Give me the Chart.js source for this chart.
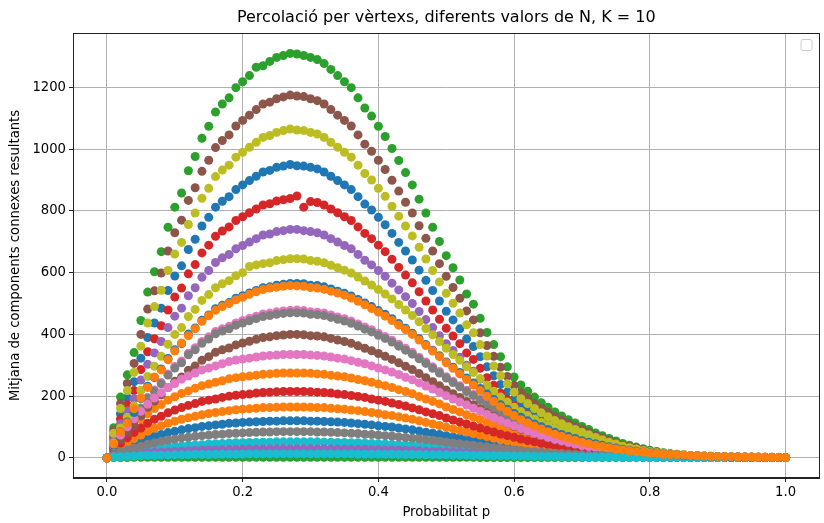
<!DOCTYPE html>
<html lang="ca">
<head>
  <meta charset="UTF-8">
  <title>Percolació per vèrtexs</title>
  <script src="https://cdn.jsdelivr.net/npm/chart.js"></script>
  <style>
    html, body { margin: 0; padding: 0; background: #fff; }
    #wrap { width: 824px; height: 523px; }
  </style>
</head>
<body>
  <div id="wrap"><canvas id="percChart" width="824" height="523"></canvas></div>
  <script>
    // Probabilitat de conservar cada vèrtex
    const probP = [
      0, 0.01, 0.02, 0.03, 0.04, 0.05, 0.06, 0.07, 0.08, 0.09,
      0.1, 0.11, 0.12, 0.13, 0.14, 0.15, 0.16, 0.17, 0.18, 0.19,
      0.2, 0.21, 0.22, 0.23, 0.24, 0.25, 0.26, 0.27, 0.28, 0.29,
      0.3, 0.31, 0.32, 0.33, 0.34, 0.35, 0.36, 0.37, 0.38, 0.39,
      0.4, 0.41, 0.42, 0.43, 0.44, 0.45, 0.46, 0.47, 0.48, 0.49,
      0.5, 0.51, 0.52, 0.53, 0.54, 0.55, 0.56, 0.57, 0.58, 0.59,
      0.6, 0.61, 0.62, 0.63, 0.64, 0.65, 0.66, 0.67, 0.68, 0.69,
      0.7, 0.71, 0.72, 0.73, 0.74, 0.75, 0.76, 0.77, 0.78, 0.79,
      0.8, 0.81, 0.82, 0.83, 0.84, 0.85, 0.86, 0.87, 0.88, 0.89,
      0.9, 0.91, 0.92, 0.93, 0.94, 0.95, 0.96, 0.97, 0.98, 0.99,
      1
    ];

    // Mitjana de components connexes per a cada N (en l'ordre en què es dibuixen)
    const comp00 = [0, 71, 143, 195, 247, 323, 390, 437, 485, 542, 589, 622, 675, 708, 751, 779, 812, 831, 846, 869, 884, 898, 912, 926, 931, 941, 945, 950, 946, 945, 941, 936, 926, 912, 898, 884, 869, 846, 822, 803, 779, 755, 727, 698, 670, 641, 608, 575, 542, 508, 475, 447, 418, 385, 361, 328, 295, 266, 238, 214, 190, 171, 157, 143, 130, 119, 108, 99, 90, 82, 74, 67, 59, 52, 46, 40, 34, 29, 26, 22, 18, 15, 12, 10, 9, 8, 6, 5, 4, 4, 3, 2, 2, 2, 1, 1, 1, 1, 1, 1, 1];
    const comp01 = [0, 33, 61, 83, 105, 124, 143, 160, 173, 187, 198, 209, 217, 226, 234, 239, 245, 250, 256, 260, 263, 265, 268, 271, 272, 274, 275, 275, 275, 275, 274, 272, 271, 268, 265, 263, 259, 254, 250, 245, 239, 234, 228, 221, 215, 208, 199, 191, 183, 175, 165, 157, 149, 140, 132, 124, 116, 107, 99, 92, 85, 78, 72, 66, 61, 55, 50, 45, 41, 37, 33, 30, 28, 25, 22, 20, 18, 16, 14, 12, 11, 10, 9, 8, 7, 6, 6, 5, 4, 4, 3, 3, 3, 2, 2, 2, 2, 1, 1, 1, 1];
    const comp02 = [0, 98, 197, 269, 341, 445, 537, 603, 668, 747, 812, 858, 930, 976, 1035, 1074, 1120, 1146, 1166, 1199, 1218, 1238, 1265, 1270, 1284, 1297, 1303, 1310, 1308, 1303, 1297, 1290, 1277, 1258, 1238, 1218, 1199, 1166, 1133, 1107, 1074, 1041, 1002, 963, 924, 884, 838, 793, 747, 701, 655, 616, 576, 531, 498, 452, 406, 367, 328, 295, 262, 236, 216, 197, 179, 164, 149, 136, 124, 113, 102, 92, 81, 72, 63, 55, 47, 41, 35, 30, 25, 21, 17, 14, 12, 10, 8, 7, 5, 5, 4, 3, 3, 2, 2, 2, 1, 1, 1, 1, 1];
    const comp03 = [0, 63, 126, 172, 218, 286, 344, 386, 428, 479, 521, 550, 596, 626, 664, 689, 718, 735, 748, 769, 781, 794, 806, 819, 823, 832, 836, 840, 848, 812, 830, 827, 819, 806, 794, 781, 769, 748, 727, 710, 689, 668, 643, 617, 592, 567, 538, 508, 479, 449, 420, 395, 370, 340, 319, 290, 260, 235, 210, 189, 168, 151, 139, 126, 115, 105, 96, 87, 80, 72, 66, 59, 52, 46, 40, 35, 30, 26, 23, 19, 16, 13, 11, 9, 8, 7, 5, 4, 3, 3, 3, 2, 2, 2, 1, 1, 1, 1, 1, 1, 1];
    const comp04 = [0, 56, 111, 152, 192, 252, 303, 340, 377, 422, 459, 485, 525, 551, 585, 607, 633, 648, 659, 677, 688, 699, 710, 722, 725, 733, 736, 740, 740, 736, 733, 729, 722, 710, 699, 688, 677, 659, 640, 625, 607, 588, 566, 544, 522, 500, 474, 448, 422, 396, 370, 348, 326, 300, 281, 255, 229, 207, 185, 167, 148, 133, 122, 111, 101, 93, 84, 77, 70, 64, 58, 52, 46, 41, 36, 31, 27, 23, 20, 17, 14, 12, 10, 8, 7, 6, 4, 4, 3, 3, 2, 2, 2, 1, 1, 1, 1, 1, 1, 1, 1];
    const comp05 = [0, 88, 176, 241, 306, 400, 482, 541, 599, 670, 729, 770, 834, 875, 928, 964, 1005, 1028, 1046, 1075, 1093, 1110, 1128, 1146, 1152, 1163, 1169, 1175, 1172, 1170, 1163, 1157, 1146, 1128, 1110, 1093, 1075, 1046, 1016, 993, 964, 934, 899, 864, 828, 793, 752, 711, 670, 629, 588, 552, 517, 476, 447, 405, 364, 329, 294, 264, 235, 212, 194, 176, 161, 147, 134, 122, 112, 101, 92, 82, 73, 65, 56, 49, 42, 36, 32, 27, 22, 19, 15, 13, 11, 9, 7, 6, 5, 5, 4, 3, 3, 2, 2, 2, 1, 1, 1, 1, 1];
    const comp06 = [0, 37, 73, 97, 125, 162, 196, 220, 244, 272, 296, 314, 339, 357, 377, 392, 409, 418, 426, 437, 445, 452, 459, 466, 469, 473, 476, 478, 479, 477, 473, 472, 469, 463, 456, 451, 443, 434, 424, 415, 404, 393, 381, 368, 355, 342, 326, 311, 295, 280, 263, 248, 234, 219, 205, 190, 175, 160, 146, 134, 122, 111, 102, 93, 86, 78, 70, 64, 59, 53, 48, 43, 39, 35, 31, 27, 24, 21, 19, 16, 14, 12, 11, 10, 8, 7, 6, 6, 5, 4, 4, 3, 3, 3, 2, 2, 2, 1, 1, 1, 1];
    const comp07 = [0, 35, 71, 96, 122, 160, 193, 216, 240, 268, 291, 308, 334, 350, 371, 385, 402, 411, 418, 430, 437, 444, 451, 458, 461, 465, 468, 470, 470, 469, 465, 464, 461, 455, 449, 443, 436, 427, 417, 408, 397, 387, 375, 362, 349, 336, 321, 306, 290, 275, 259, 244, 230, 215, 202, 187, 172, 157, 143, 132, 120, 110, 100, 92, 84, 77, 69, 63, 58, 52, 47, 42, 38, 34, 30, 27, 24, 21, 18, 16, 14, 12, 11, 9, 8, 7, 6, 6, 5, 4, 4, 3, 3, 3, 2, 2, 2, 1, 1, 1, 1];
    const comp08 = [0, 80, 160, 218, 277, 362, 437, 490, 543, 607, 660, 698, 756, 793, 841, 873, 911, 932, 948, 974, 990, 1006, 1022, 1038, 1044, 1054, 1060, 1065, 1062, 1060, 1054, 1049, 1038, 1022, 1006, 990, 974, 948, 921, 900, 873, 847, 815, 783, 751, 719, 682, 644, 607, 570, 533, 501, 469, 431, 405, 367, 330, 298, 266, 240, 213, 192, 176, 160, 146, 133, 121, 111, 101, 92, 83, 75, 66, 59, 51, 45, 38, 33, 29, 24, 20, 17, 14, 12, 10, 9, 6, 5, 4, 4, 3, 2, 2, 2, 1, 1, 1, 1, 1, 1, 1];
    const comp09 = [0, 8, 14, 18, 22, 25, 28, 31, 33, 35, 37, 39, 41, 42, 43, 45, 46, 47, 48, 49, 49, 50, 50, 51, 51, 52, 52, 52, 52, 52, 52, 52, 51, 51, 50, 50, 49, 49, 48, 47, 46, 45, 44, 43, 42, 41, 40, 38, 37, 36, 34, 33, 32, 30, 29, 28, 26, 25, 23, 22, 21, 19, 18, 17, 16, 15, 14, 13, 12, 11, 10, 9, 8, 8, 7, 6, 6, 5, 5, 4, 4, 3, 3, 3, 2, 2, 2, 2, 2, 1, 1, 1, 1, 1, 1, 1, 1, 1, 1, 1, 1];
    const comp10 = [0, 14, 26, 36, 46, 54, 62, 70, 76, 82, 86, 91, 95, 98, 102, 104, 107, 109, 112, 113, 115, 116, 117, 118, 119, 119, 120, 120, 120, 120, 119, 119, 118, 117, 116, 115, 113, 111, 109, 107, 104, 102, 100, 97, 94, 91, 87, 83, 80, 76, 72, 68, 65, 61, 58, 54, 50, 47, 43, 40, 37, 34, 31, 29, 26, 24, 22, 20, 18, 16, 14, 13, 12, 11, 10, 9, 8, 7, 6, 5, 5, 4, 4, 3, 3, 3, 2, 2, 2, 2, 1, 1, 1, 1, 1, 1, 1, 1, 1, 1, 1];
    const comp11 = [0, 20, 36, 50, 63, 74, 86, 96, 104, 112, 119, 125, 130, 135, 140, 144, 147, 150, 153, 156, 158, 159, 161, 163, 163, 164, 165, 165, 165, 165, 164, 163, 163, 161, 159, 158, 155, 153, 150, 147, 144, 140, 137, 133, 129, 125, 120, 115, 110, 105, 99, 94, 89, 84, 79, 74, 69, 64, 59, 55, 51, 47, 43, 40, 36, 33, 30, 27, 25, 22, 20, 18, 17, 15, 13, 12, 11, 9, 8, 7, 7, 6, 5, 5, 4, 4, 3, 3, 3, 2, 2, 2, 2, 1, 1, 1, 1, 1, 1, 1, 1];
    const comp12 = [0, 1, 1, 1, 2, 2, 2, 2, 2, 2, 2, 2, 2, 2, 2, 2, 2, 2, 2, 2, 2, 2, 2, 2, 2, 2, 2, 2, 2, 2, 2, 2, 2, 2, 2, 2, 2, 2, 2, 2, 2, 2, 2, 2, 2, 2, 2, 2, 2, 2, 2, 2, 2, 2, 2, 1, 1, 1, 1, 1, 1, 1, 1, 1, 1, 1, 1, 1, 1, 1, 1, 1, 1, 1, 1, 1, 1, 1, 1, 1, 1, 1, 1, 1, 1, 1, 1, 1, 1, 1, 1, 1, 1, 1, 1, 1, 1, 1, 1, 1, 1];
    const comp13 = [0, 26, 47, 65, 82, 97, 112, 125, 135, 146, 155, 163, 170, 176, 183, 187, 191, 196, 200, 203, 205, 207, 210, 212, 213, 214, 215, 215, 215, 215, 214, 213, 212, 210, 207, 205, 202, 199, 196, 191, 187, 183, 178, 173, 168, 162, 156, 149, 143, 137, 129, 123, 116, 110, 103, 97, 90, 84, 77, 72, 67, 61, 56, 52, 47, 43, 39, 35, 32, 29, 26, 24, 22, 19, 17, 15, 14, 12, 11, 10, 9, 8, 7, 6, 5, 5, 4, 4, 3, 3, 3, 2, 2, 2, 2, 2, 1, 1, 1, 1, 1];
    const comp14 = [0, 5, 8, 11, 13, 15, 17, 18, 19, 20, 21, 22, 23, 24, 25, 26, 26, 27, 27, 28, 28, 29, 29, 29, 30, 30, 30, 30, 30, 30, 30, 30, 30, 29, 29, 29, 28, 28, 28, 27, 27, 26, 26, 25, 24, 24, 23, 22, 21, 21, 20, 19, 18, 17, 17, 16, 15, 14, 13, 13, 12, 11, 10, 10, 9, 8, 8, 7, 7, 6, 6, 5, 5, 4, 4, 4, 3, 3, 3, 3, 2, 2, 2, 2, 2, 1, 1, 1, 1, 1, 1, 1, 1, 1, 1, 1, 1, 1, 1, 1, 1];
    const comp15 = [0, 30, 60, 82, 104, 136, 164, 184, 204, 228, 248, 262, 284, 298, 316, 328, 342, 350, 356, 366, 372, 378, 384, 390, 392, 396, 398, 400, 400, 399, 396, 395, 392, 387, 382, 377, 371, 363, 355, 347, 338, 329, 319, 308, 297, 286, 273, 260, 247, 234, 220, 208, 196, 183, 172, 159, 146, 134, 122, 112, 102, 93, 85, 78, 72, 65, 59, 54, 49, 44, 40, 36, 32, 29, 26, 23, 20, 18, 16, 14, 12, 10, 9, 8, 7, 6, 5, 5, 4, 4, 3, 3, 2, 2, 2, 2, 2, 1, 1, 1, 1];
    const comp16 = [0, 40, 74, 101, 127, 151, 174, 194, 211, 228, 241, 255, 265, 275, 285, 291, 298, 305, 312, 317, 320, 323, 327, 330, 332, 333, 335, 335, 335, 335, 333, 332, 330, 327, 323, 320, 315, 310, 305, 298, 291, 285, 278, 270, 261, 253, 243, 233, 223, 213, 201, 191, 181, 171, 161, 151, 141, 131, 121, 112, 104, 95, 87, 80, 74, 67, 60, 55, 50, 45, 40, 37, 34, 30, 27, 24, 21, 19, 17, 15, 13, 12, 11, 9, 8, 7, 7, 6, 5, 5, 4, 4, 3, 3, 3, 2, 2, 2, 1, 1, 1];
    const comp17 = [0, 10, 19, 26, 32, 38, 44, 49, 54, 58, 61, 65, 67, 70, 72, 74, 76, 77, 79, 80, 81, 82, 83, 84, 84, 85, 85, 85, 85, 85, 85, 84, 84, 83, 82, 81, 80, 79, 77, 76, 74, 72, 71, 68, 66, 64, 62, 59, 57, 54, 51, 48, 46, 43, 41, 38, 36, 33, 31, 28, 26, 24, 22, 20, 19, 17, 15, 14, 13, 11, 10, 9, 9, 8, 7, 6, 5, 5, 4, 4, 3, 3, 3, 2, 2, 2, 2, 2, 1, 1, 1, 1, 1, 1, 1, 1, 1, 1, 1, 1, 1];
    const comp18 = [0, 48, 97, 132, 168, 219, 264, 297, 329, 368, 400, 422, 458, 481, 510, 529, 551, 564, 574, 590, 600, 620, 625, 629, 632, 639, 642, 645, 645, 644, 639, 637, 632, 624, 616, 608, 599, 586, 573, 560, 545, 531, 515, 497, 479, 461, 441, 419, 399, 377, 355, 335, 316, 295, 277, 257, 235, 216, 197, 181, 164, 150, 137, 126, 115, 105, 95, 87, 79, 72, 64, 58, 52, 47, 41, 37, 32, 28, 25, 22, 19, 17, 15, 13, 11, 10, 8, 8, 6, 6, 5, 5, 4, 4, 3, 3, 3, 2, 2, 1, 1];
    const comp19 = [0, 3, 4, 5, 6, 7, 8, 8, 9, 9, 10, 10, 10, 11, 11, 11, 12, 12, 12, 12, 12, 13, 13, 13, 13, 13, 13, 13, 13, 13, 13, 13, 13, 13, 13, 13, 13, 12, 12, 12, 12, 12, 12, 11, 11, 11, 11, 10, 10, 10, 10, 9, 9, 9, 8, 8, 8, 7, 7, 7, 6, 6, 6, 5, 5, 5, 5, 4, 4, 4, 4, 3, 3, 3, 3, 3, 2, 2, 2, 2, 2, 2, 2, 2, 2, 1, 1, 1, 1, 1, 1, 1, 1, 1, 1, 1, 1, 1, 1, 1, 1];
    const comp20 = [0, 42, 85, 116, 147, 192, 232, 260, 288, 322, 350, 370, 401, 421, 446, 463, 483, 494, 503, 517, 525, 534, 542, 551, 554, 559, 562, 565, 565, 564, 559, 558, 554, 547, 540, 533, 524, 513, 502, 490, 477, 465, 451, 435, 420, 404, 386, 367, 349, 331, 311, 294, 277, 259, 243, 225, 206, 189, 172, 158, 144, 132, 120, 110, 101, 92, 83, 76, 69, 63, 56, 51, 46, 41, 36, 32, 28, 25, 22, 19, 17, 15, 13, 11, 10, 8, 7, 7, 6, 5, 5, 4, 3, 3, 3, 2, 2, 2, 2, 1, 1];
    const comp21 = [0, 45, 84, 113, 159, 194, 228, 262, 285, 318, 346, 372, 396, 418, 442, 460, 478, 490, 500, 512, 520, 530, 538, 545, 550, 553, 556, 558, 557, 556, 552, 550, 546, 540, 534, 527, 518, 507, 496, 484, 472, 459, 445, 430, 416, 400, 382, 364, 346, 328, 308, 290, 272, 254, 236, 218, 200, 183, 166, 151, 137, 124, 113, 103, 94, 85, 77, 70, 63, 57, 51, 46, 41, 37, 33, 29, 26, 23, 20, 18, 16, 14, 12, 11, 10, 9, 8, 7, 6, 5, 5, 4, 4, 3, 3, 3, 2, 2, 2, 2, 1];

    const totesSeries = [comp00, comp01, comp02, comp03, comp04, comp05, comp06, comp07,
      comp08, comp09, comp10, comp11, comp12, comp13, comp14, comp15, comp16, comp17,
      comp18, comp19, comp20, comp21];

    // cicle de colors per defecte (tab10)
    const colorsTab10 = ['#1f77b4', '#ff7f0e', '#2ca02c', '#d62728', '#9467bd',
      '#8c564b', '#e377c2', '#7f7f7f', '#bcbd22', '#17becf'];

    const ticksX = [0, 0.2, 0.4, 0.6, 0.8, 1.0];
    const ticksY = [0, 200, 400, 600, 800, 1000, 1200];

    const titol = 'Percolació per vèrtexs, diferents valors de N, K = 10';
    const FONT = 'DejaVu Sans';
    const MIDA = 13.2;

    const datasets = totesSeries.map((vals, i) => ({
      data: vals.map((v, j) => ({ x: probP[j], y: v })),
      backgroundColor: colorsTab10[i % 10],
      borderColor: colorsTab10[i % 10],
      borderWidth: 0,
      pointRadius: 4.5,
      pointHoverRadius: 4.5,
      // les últimes sèries queden a sobre
      order: totesSeries.length - i
    }));

    // marc, títol i requadre de llegenda buit
    const decoracio = {
      id: 'decoracio',
      afterDraw(chart) {
        const { ctx, chartArea: a } = chart;
        ctx.save();
        ctx.strokeStyle = '#222';
        ctx.lineWidth = 1;
        ctx.strokeRect(Math.round(a.left) + 0.5, Math.round(a.top) + 0.5,
          Math.round(a.right - a.left) - 1, Math.round(a.bottom - a.top) - 1);

        // llegenda sense entrades
        ctx.beginPath();
        ctx.roundRect(a.right - 18.5, a.top + 6.5, 11, 11, 2);
        ctx.fillStyle = 'rgba(255,255,255,0.8)';
        ctx.fill();
        ctx.strokeStyle = '#cccccc';
        ctx.stroke();

        ctx.fillStyle = '#000';
        ctx.font = '16px "' + FONT + '"';
        ctx.textAlign = 'center';
        ctx.textBaseline = 'middle';
        ctx.fillText(titol, (a.left + a.right) / 2, 18);
        ctx.restore();
      }
    };

    new Chart(document.getElementById('percChart'), {
      type: 'scatter',
      data: { datasets },
      plugins: [decoracio],
      options: {
        responsive: false,
        animation: false,
        layout: { padding: { top: 33, right: 4, left: 0, bottom: 0 } },
        plugins: {
          legend: { display: false },
          tooltip: { enabled: false }
        },
        scales: {
          x: {
            type: 'linear',
            min: -0.05,
            max: 1.05,
            z: 1,
            afterBuildTicks: s => { s.ticks = ticksX.map(v => ({ value: v })); },
            afterFit: s => { s.height = 45; },
            grid: { color: '#b0b0b0', lineWidth: 1, tickLength: 4, tickColor: '#222' },
            border: { display: true, color: '#222', width: 1 },
            ticks: {
              color: '#000', padding: 3, maxRotation: 0,
              font: { family: FONT, size: MIDA },
              callback: v => Number(v).toFixed(1)
            },
            title: {
              display: true, text: 'Probabilitat p', color: '#000',
              font: { family: FONT, size: MIDA },
              padding: { top: 0, bottom: 3 }
            }
          },
          y: {
            type: 'linear',
            min: -65,
            max: 1376,
            z: 1,
            afterBuildTicks: s => { s.ticks = ticksY.map(v => ({ value: v })); },
            afterFit: s => { s.width = 73; },
            grid: { color: '#b0b0b0', lineWidth: 1, tickLength: 4, tickColor: '#222' },
            border: { display: true, color: '#222', width: 1 },
            ticks: {
              color: '#000', padding: 3,
              font: { family: FONT, size: MIDA },
              callback: v => String(v)
            },
            title: {
              display: true, text: 'Mitjana de components connexes resultants', color: '#000',
              font: { family: FONT, size: MIDA },
              padding: { top: 8, bottom: 0 }
            }
          }
        }
      }
    });
  </script>
</body>
</html>
